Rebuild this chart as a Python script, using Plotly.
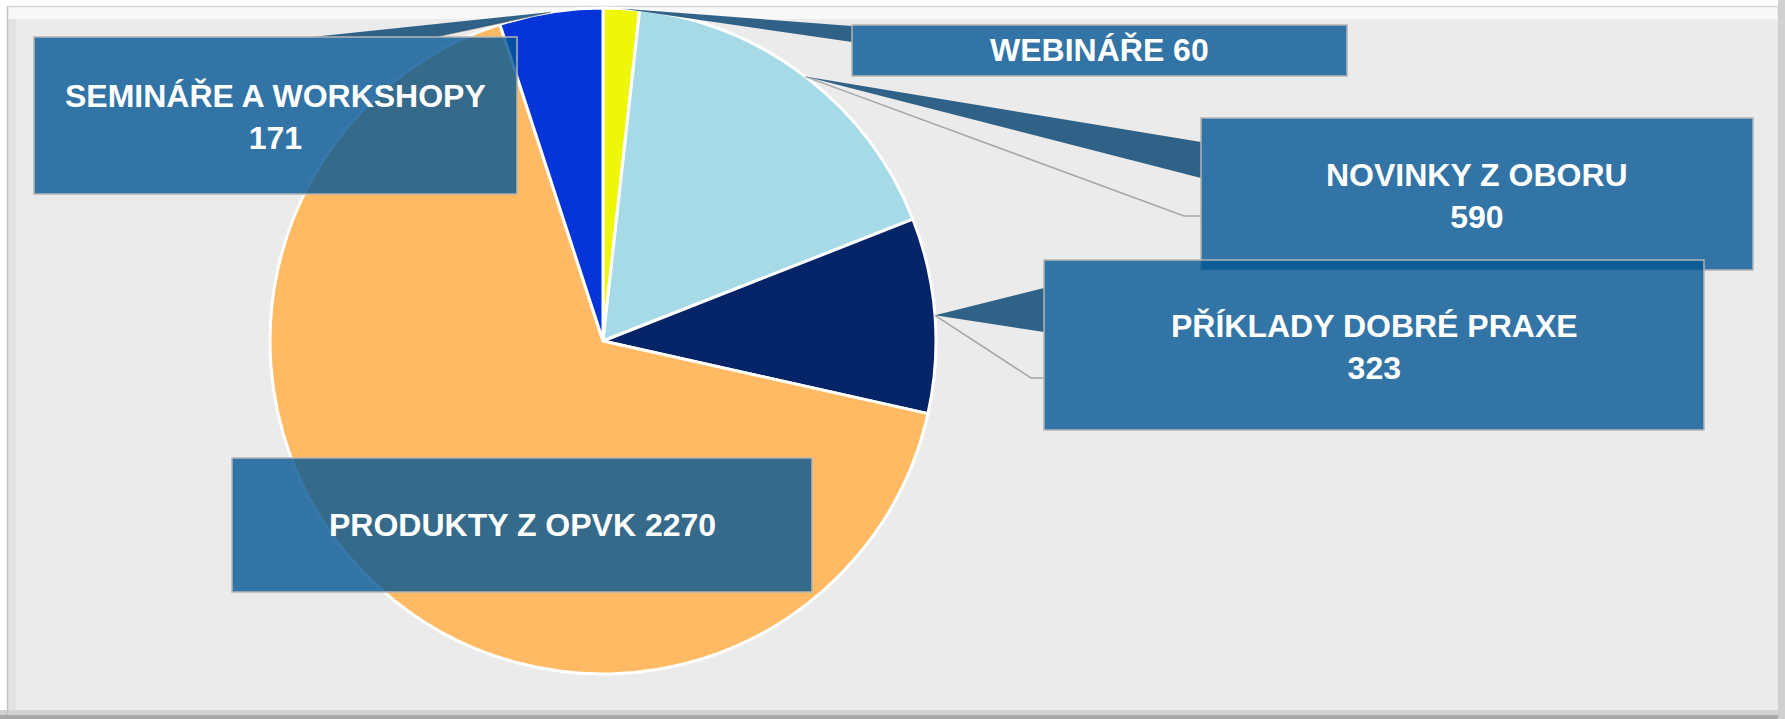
import math
import plotly.graph_objects as go

# ---- data ----
categories = ["WEBINÁŘE", "NOVINKY Z OBORU", "PŘÍKLADY DOBRÉ PRAXE", "PRODUKTY Z OPVK", "SEMINÁŘE A WORKSHOPY"]
values = [60, 590, 323, 2270, 171]
label_text = ["WEBINÁŘE 60", "NOVINKY Z OBORU<br>590", "PŘÍKLADY DOBRÉ PRAXE<br>323",
              "PRODUKTY Z OPVK 2270", "SEMINÁŘE A WORKSHOPY<br>171"]
colors = ["#EEF70A", "#A5DAE6", "#062468", "#FFBA63", "#0535D8"]

W, H = 1785, 719
CX, CY, R = 603, 341, 333  # pie centre / radius in px


def px(x):
    return x / W


def py(y):
    return 1 - y / H


# label box layout (px): box, pointer base (two points) or None, leader line points
boxes = [
    dict(box=(852, 25, 1347, 76), base=[(852, 26), (852, 42)], leader=None),
    dict(box=(1201, 118, 1753, 270), base=[(1201, 142), (1201, 178)], leader=[(1184, 216), (1201, 216)]),
    dict(box=(1044, 260, 1704, 430), base=[(1044, 288), (1044, 332)], leader=[(1031, 378), (1044, 378)]),
    dict(box=(232, 458, 812, 592), base=None, leader=None),
    dict(box=(34, 37, 517, 194), base=[(312, 37), (435, 37)], leader=[(435, 37)]),
]

fig = go.Figure()
fig.add_trace(go.Pie(
    labels=categories, values=values, sort=False, direction="clockwise", rotation=0,
    marker=dict(colors=colors, line=dict(color="#FFFFFF", width=3)),
    textinfo="none", showlegend=False,
    domain=dict(x=[px(CX - R), px(CX + R)], y=[py(CY + R), py(CY - R)]),
))

shapes = []
# frame / bevel
shapes += [
    dict(type="rect", xref="paper", yref="paper", x0=0, x1=1, y0=py(6), y1=1, fillcolor="#FFFFFF", line_width=0, layer="below"),
    dict(type="rect", xref="paper", yref="paper", x0=px(8), x1=px(1777), y0=py(19), y1=py(7), fillcolor="#F8F8F8", line_width=0, layer="below"),
    dict(type="rect", xref="paper", yref="paper", x0=0, x1=px(7), y0=0, y1=1, fillcolor="#FFFFFF", line_width=0, layer="below"),
    dict(type="rect", xref="paper", yref="paper", x0=px(8), x1=px(16), y0=py(712), y1=py(19), fillcolor="#E2E2E2", line_width=0, layer="below"),
    dict(type="rect", xref="paper", yref="paper", x0=0, x1=1, y0=py(715), y1=py(710), fillcolor="#D2D2D2", line_width=0, layer="below"),
    dict(type="rect", xref="paper", yref="paper", x0=0, x1=1, y0=0, y1=py(715), fillcolor="#A8A8A8", line_width=0, layer="below"),
    dict(type="rect", xref="paper", yref="paper", x0=px(1778), x1=1, y0=0, y1=1, fillcolor="#D0D0D0", line_width=0, layer="below"),
    dict(type="line", xref="paper", yref="paper", x0=px(7), x1=px(1778), y0=py(6.5), y1=py(6.5), line=dict(color="#D6D6D6", width=1.5), layer="below"),
    dict(type="line", xref="paper", yref="paper", x0=px(7.5), x1=px(7.5), y0=py(715), y1=py(6.5), line=dict(color="#C4C4C4", width=1.5), layer="below"),
]

total = sum(values)
cum = 0
annotations = []
for i, v in enumerate(values):
    mid = (cum + v / 2) / total * 2 * math.pi
    cum += v
    tx = CX + R * math.sin(mid)
    ty = CY - R * math.cos(mid)
    b = boxes[i]
    x0, y0, x1, y1 = b["box"]
    if b["leader"]:
        pts = [(tx, ty)] + b["leader"]
        path = "M " + " L ".join(f"{px(a)},{py(c)}" for a, c in pts)
        shapes.append(dict(type="path", xref="paper", yref="paper", path=path,
                           line=dict(color="#A6A6A6", width=1.5), layer="above"))
    if b["base"]:
        (bx1, by1), (bx2, by2) = b["base"]
        path = f"M {px(tx)},{py(ty)} L {px(bx1)},{py(by1)} L {px(bx2)},{py(by2)} Z"
        shapes.append(dict(type="path", xref="paper", yref="paper", path=path,
                           fillcolor="rgba(22,78,122,0.88)", line_width=0, layer="above"))
    shapes.append(dict(type="rect", xref="paper", yref="paper", x0=px(x0), x1=px(x1), y0=py(y1), y1=py(y0),
                       fillcolor="rgba(3,86,148,0.80)", line=dict(color="#B4B4B4", width=1.5), layer="above"))
    annotations.append(dict(
        x=px((x0 + x1) / 2), y=py((y0 + y1) / 2 + (2 if "<br>" in label_text[i] else 0)),
        xref="paper", yref="paper", showarrow=False,
        text=f"<b>{label_text[i]}</b>", align="center", xanchor="center", yanchor="middle",
        font=dict(family="Arial, Liberation Sans, sans-serif", size=32, color="#FFFFFF"),
    ))

fig.update_layout(
    width=W, height=H, autosize=False,
    margin=dict(l=0, r=0, t=0, b=0),
    paper_bgcolor="#EBEBEB", plot_bgcolor="#EBEBEB",
    shapes=shapes, annotations=annotations, showlegend=False,
)

fig.write_html(
    "out.html",
    config={"displayModeBar": False},
    post_script="document.body.style.margin='0';document.body.style.overflow='hidden';",
)
